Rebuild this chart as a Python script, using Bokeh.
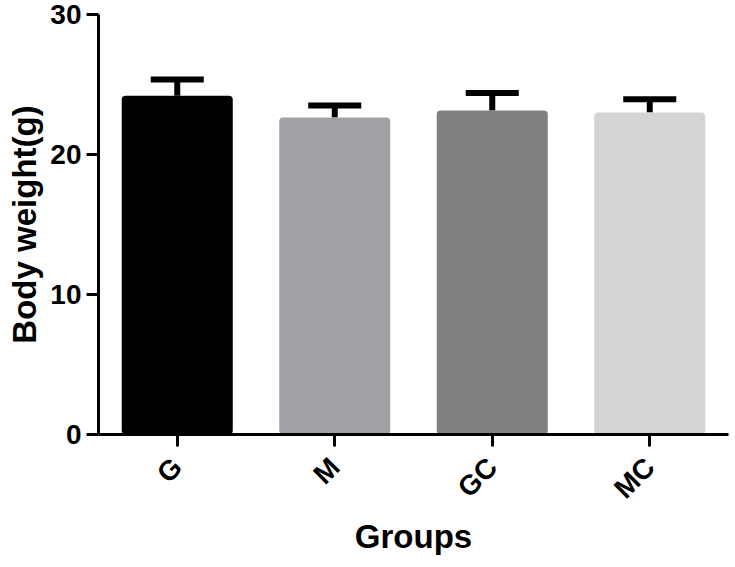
import math
from bokeh.plotting import figure
from bokeh.models import ColumnDataSource, Whisker, TeeHead, FixedTicker, FactorRange
from bokeh.embed import file_html
from bokeh.resources import INLINE

groups = ["G", "M", "GC", "MC"]
means = [24.2, 22.65, 23.15, 23.0]
errors = [1.15, 0.85, 1.25, 0.95]
colors = ["#000000", "#a1a0a5", "#808080", "#d4d4d4"]
y_ticks = [0, 10, 20, 30]

src = ColumnDataSource(dict(
    x=groups, top=means,
    upper=[m + e for m, e in zip(means, errors)],
    lower=means, color=colors,
))

FONT = "Liberation Sans"

p = figure(
    x_range=FactorRange(*groups, range_padding=0),
    y_range=(0, 30),
    width=735, height=567,
    output_backend="svg", toolbar_location=None,
    min_border_left=98, min_border_right=7, min_border_top=14, min_border_bottom=133,
)
p.outline_line_color = None
p.xgrid.grid_line_color = None
p.ygrid.grid_line_color = None

p.add_layout(Whisker(source=src, base="x", upper="upper", lower="lower",
                     dimension="height", line_width=6, line_color="black",
                     upper_head=TeeHead(size=53, line_width=6, line_color="black"),
                     lower_head=None))

p.vbar(x="x", top="top", width=0.705, source=src, fill_color="color",
       line_color=None, border_radius=4)

for ax in (p.xaxis[0], p.yaxis[0]):
    ax.axis_line_width = 3
    ax.axis_line_color = "black"
    ax.major_tick_line_width = 3
    ax.major_tick_line_color = "black"
    ax.major_tick_out = 12
    ax.major_tick_in = 0
    ax.minor_tick_line_color = None
    ax.major_label_text_font = FONT
    ax.major_label_text_font_style = "bold"
    ax.major_label_text_font_size = "28px"
    ax.major_label_text_color = "black"
    ax.axis_label_text_font = FONT
    ax.axis_label_text_font_style = "bold"
    ax.axis_label_text_font_size = "33px"
    ax.axis_label_text_color = "black"

p.yaxis.ticker = FixedTicker(ticks=y_ticks)
p.yaxis.axis_label = "Body weight(g)"
p.yaxis.major_label_standoff = 5
p.yaxis.axis_label_standoff = 4

p.xaxis.axis_label = "Groups"
p.xaxis.major_label_orientation = math.pi / 4
p.xaxis.major_label_standoff = 16
p.xaxis.axis_label_standoff = 0

open("out.html", "w").write(file_html(p, INLINE))
